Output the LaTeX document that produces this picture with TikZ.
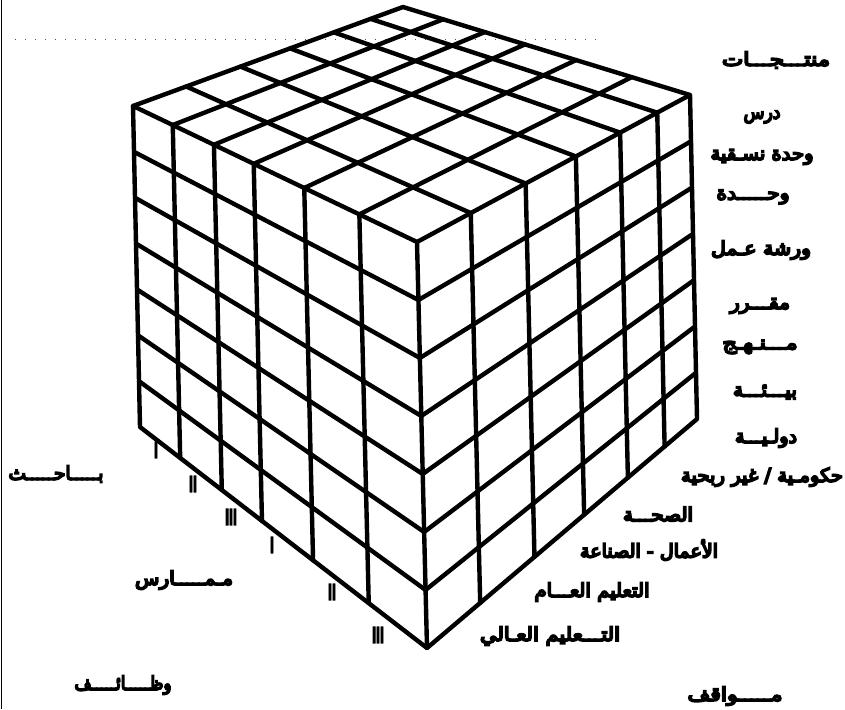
\documentclass[tikz,border=0pt]{standalone}
\usepackage{fontspec}
\usetikzlibrary{calc}
\TeXXeTstate=1
\newfontfamily\arabicfont[Script=Arabic, FakeBold=9]{DejaVu Sans}
\newfontfamily\numfont[FakeBold=6]{Liberation Sans}
\newcommand\lbl[2]{\resizebox{#1pt}{\height}{\arabicfont #2}}
\newcommand\romtxt[1]{\scalebox{0.75}[1.2]{\numfont\bfseries #1}}
\tikzset{
  edge/.style={line width=4.4pt, line join=round, line cap=round, black},
  lab/.style={font=\fontsize{19}{19}\selectfont, inner sep=0pt, text=black},
  rom/.style={font=\fontsize{19}{19}\selectfont, inner sep=0pt, text=black},
}
\begin{document}
\begin{tikzpicture}[x=1pt,y=-1pt]
\useasboundingbox (0,0) rectangle (845,709);
\fill[white] (0,0) rectangle (845,709);
% scan artefacts
\draw[line width=1.6pt] (1.5,0) -- (1.5,709);
\draw[line width=0.9pt, dash pattern=on 1pt off 9pt, black!70] (15,39) -- (600,39);
% cube corners
\coordinate (A) at (403,7);
\coordinate (L) at (133,106);
\coordinate (F) at (417,242);
\coordinate (R) at (690,95);
\coordinate (Lb) at (140,427);
\coordinate (Fb) at (427,648);
\coordinate (Rb) at (697,419);
% top face
\foreach \t in {0.14,0.285,0.425,0.603,0.797}
  \draw[edge] ($(A)!\t!(R)$) -- ($(L)!\t!(F)$);
\foreach \u in {0.197,0.398,0.582,0.744,0.88}
  \draw[edge] ($(L)!\u!(A)$) -- ($(F)!\u!(R)$);
% left face
\foreach \t in {0.14,0.285,0.425,0.603,0.797}
  \draw[edge] ($(L)!\t!(F)$) -- ($(Lb)!\t!(Fb)$);
\foreach \k in {1,...,6}
  \draw[edge] ($(L)!{\k/7}!(Lb)$) -- ($(F)!{\k/7}!(Fb)$);
% right face
\foreach \u in {0.197,0.398,0.582,0.744,0.88}
  \draw[edge] ($(F)!\u!(R)$) -- ($(Fb)!\u!(Rb)$);
\foreach \k in {1,...,6}
  \draw[edge] ($(F)!{\k/7}!(Fb)$) -- ($(R)!{\k/7}!(Rb)$);
% outline
\draw[edge] (A) -- (R) -- (Rb) -- (Fb) -- (Lb) -- (L) -- cycle;
\draw[edge] (L) -- (F) -- (R);
\draw[edge] (F) -- (Fb);
% product labels
\node[lab] (p0) at (776,60) {\lbl{108}{\beginR منتـــجـــات\endR}};
\node[lab] (p1) at (762,117) {\lbl{37}{\beginR درس\endR}};
\node[lab] (p2) at (762,157) {\lbl{103}{\beginR وحدة نسـقية\endR}};
\node[lab] (p3) at (753,197) {\lbl{73}{\beginR وحـــــدة\endR}};
\node[lab] (p4) at (761,250) {\lbl{100}{\beginR ورشة عـمل\endR}};
\node[lab] (p5) at (760,306) {\lbl{60}{\beginR مقـــرر\endR}};
\node[lab] (p6) at (760,347) {\lbl{75}{\beginR مـــنـهـج\endR}};
\node[lab] (p7) at (765,392) {\lbl{64}{\beginR بيـــئـــة\endR}};
% setting labels
\node[lab] (s1) at (766,438) {\lbl{62}{\beginR دولـيـــة\endR}};
\node[lab] (s2) at (762,477) {\lbl{162}{\beginR حكومـية / غير ربحية\endR}};
\node[lab] (s3) at (658,514) {\lbl{70}{\beginR الصحـــة\endR}};
\node[lab] (s4) at (649,550) {\lbl{138}{\beginR الأعمال - الصناعة\endR}};
\node[lab] (s5) at (592,592) {\lbl{115}{\beginR التعليم العـــام\endR}};
\node[lab] (s6) at (550,636) {\lbl{140}{\beginR التـــعليم العـالي\endR}};
\node[lab] (s0) at (735,696) {\lbl{95}{\beginR مـــــواقف\endR}};
% role labels
\node[lab] (r1) at (56,474) {\lbl{95}{\beginR بـــــاحـــــث\endR}};
\node[lab] (r2) at (184,580) {\lbl{98}{\beginR مـمـــــارس\endR}};
\node[lab] (r0) at (123,685) {\lbl{97}{\beginR وظـــــائـــــف\endR}};
% roman numerals
\node[rom] (n1) at (156,450) {\romtxt{I}};
\node[rom] (n2) at (193,484) {\romtxt{II}};
\node[rom] (n3) at (231,517) {\romtxt{III}};
\node[rom] (n4) at (272,545) {\romtxt{I}};
\node[rom] (n5) at (332,592) {\romtxt{II}};
\node[rom] (n6) at (378,635) {\romtxt{III}};
\end{tikzpicture}
\end{document}
